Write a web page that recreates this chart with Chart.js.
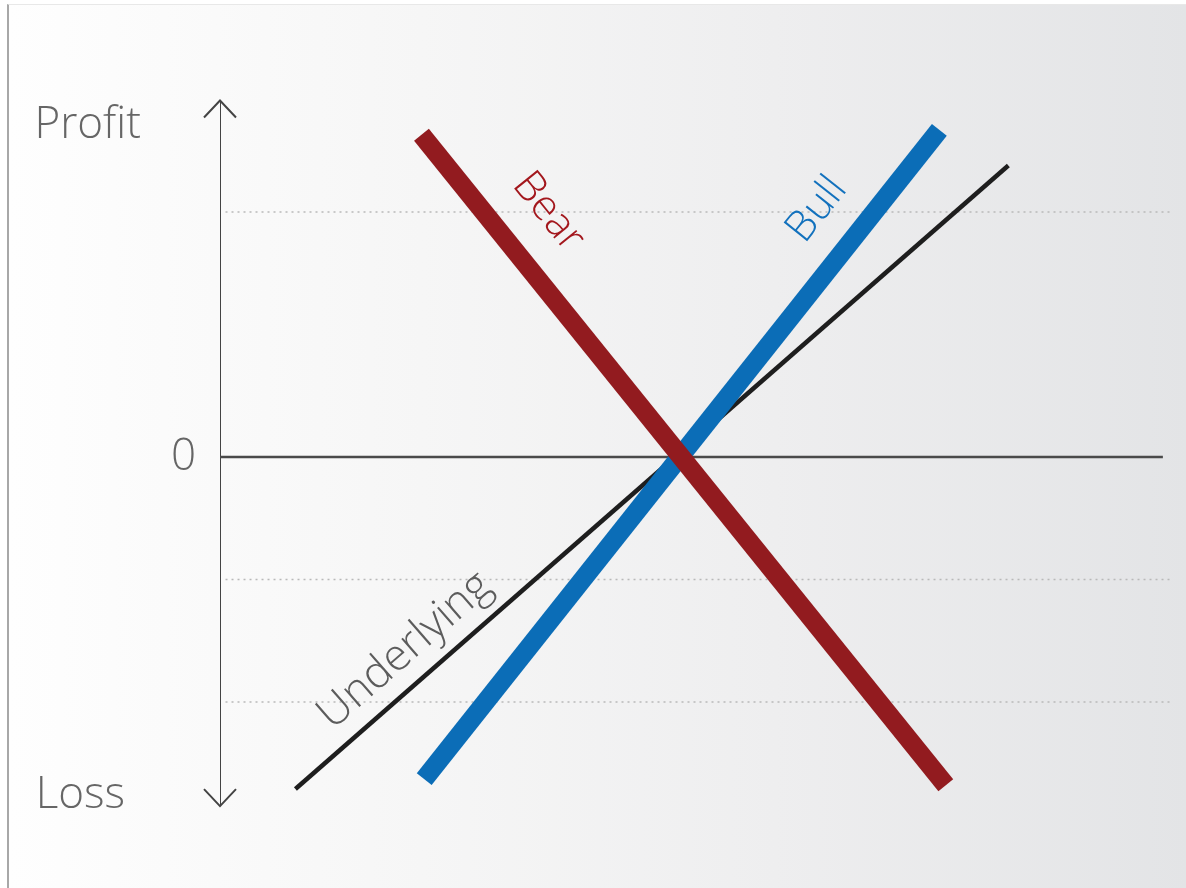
<!DOCTYPE html>
<html lang="en">
<head>
<meta charset="UTF-8">
<title>Bull / Bear payoff</title>
<script src="https://cdn.jsdelivr.net/npm/chart.js"></script>
<style>
  html, body { margin: 0; padding: 0; background: #fff; }
  #frame {
    position: absolute; left: 7px; top: 4px; width: 1179px; height: 884px;
    border-left: 2px solid #a8a8a8; border-top: 1px solid #e8e8e8;
    background: linear-gradient(to right, #fefefe 0%, #f6f6f6 35%, #eeeeef 65%, #e3e4e6 100%);
  }
  #chart { position: absolute; left: 0; top: 0; }
</style>
</head>
<body>
<div id="frame"></div>
<canvas id="chart" width="1186" height="888"></canvas>

<script>
// payoff lines (x = underlying price, y = profit/loss)
const seriesNames = ['Bear', 'Bull', 'Underlying'];
const bearX = [2.19, 7.89];
const bearY = [2.63, -2.68];
const bullX = [2.22, 7.82];
const bullY = [-2.63, 2.67];
const underlyingX = [0.82, 8.57];
const underlyingY = [-2.71, 2.38];

// axes and guides
const zeroX = [0, 10.25];
const axisY = [-2.85, 2.91];
const gridLevels = [2, -1, -2];
const gridX = [0.06, 10.36];

// y labels
const yTickLabels = ['Profit', '0', 'Loss'];
const yTickValues = [2.71, 0, -2.76];

const colors = { Bear: '#921b1f', Bull: '#0b6db7', Underlying: '#1e1e1e' };
const textColors = { Bear: '#a3171d', Bull: '#1271bd', Underlying: '#5c5c5c' };
// where each series name sits (data coords)
const nameSpots = { Bear: [3.57, 2.0], Bull: [6.49, 2.02], Underlying: [2.01, -1.58] };

function pts(xs, ys) {
  return xs.map((x, i) => ({ x: x, y: ys[i] }));
}

const datasets = [
  { label: 'Bear', data: pts(bearX, bearY), borderColor: colors.Bear, borderWidth: 19 },
  { label: 'Bull', data: pts(bullX, bullY), borderColor: colors.Bull, borderWidth: 19 },
  { label: 'Underlying', data: pts(underlyingX, underlyingY), borderColor: colors.Underlying, borderWidth: 4.5 },
  { label: 'zero', data: pts(zeroX, [0, 0]), borderColor: '#4a4a4a', borderWidth: 2.5 },
  { label: 'axis', data: pts([0, 0], axisY), borderColor: '#444', borderWidth: 2 }
];
gridLevels.forEach(g => {
  datasets.push({ label: 'grid', data: pts(gridX, [g, g]), borderColor: '#b9b9b9', borderWidth: 1.5, borderDash: [2, 4] });
});
datasets.forEach((d, i) => {
  d.showLine = true;
  d.pointRadius = 0;
  d.fill = false;
  d.order = i;
});

const decor = {
  id: 'decor',
  afterDatasetsDraw(chart) {
    const c = chart.ctx, xs = chart.scales.x, ys = chart.scales.y;
    const ax = xs.getPixelForValue(0);
    const top = ys.getPixelForValue(axisY[1]);
    const bot = ys.getPixelForValue(axisY[0]);
    c.save();
    // arrow heads
    c.strokeStyle = '#444';
    c.lineWidth = 2;
    c.beginPath();
    c.moveTo(ax - 16, top + 17); c.lineTo(ax, top); c.lineTo(ax + 16, top + 17);
    c.moveTo(ax - 16, bot - 17); c.lineTo(ax, bot); c.lineTo(ax + 16, bot - 17);
    c.stroke();

    // y labels
    c.font = '300 44px "Open Sans"';
    c.fillStyle = '#666';
    c.textAlign = 'right';
    c.textBaseline = 'middle';
    const rightEdge = [ax - 79, ax - 24, ax - 95];
    yTickLabels.forEach((t, i) => {
      c.fillText(t, rightEdge[i], ys.getPixelForValue(yTickValues[i]));
    });

    // series names along their lines
    const lines = { Bear: [bearX, bearY], Bull: [bullX, bullY], Underlying: [underlyingX, underlyingY] };
    seriesNames.forEach(n => {
      const [lx, ly] = lines[n];
      const x0 = xs.getPixelForValue(lx[0]), y0 = ys.getPixelForValue(ly[0]);
      const x1 = xs.getPixelForValue(lx[1]), y1 = ys.getPixelForValue(ly[1]);
      const ang = Math.atan2(y1 - y0, x1 - x0);
      const px = xs.getPixelForValue(nameSpots[n][0]);
      const py = ys.getPixelForValue(nameSpots[n][1]);
      c.save();
      c.translate(px, py);
      c.rotate(ang);
      c.font = n === 'Underlying' ? '300 44px "Open Sans"' : '300 42px "Open Sans"';
      c.fillStyle = textColors[n];
      c.textAlign = 'center';
      c.textBaseline = 'middle';
      c.fillText(n, 0, 0);
      c.restore();
    });
    c.restore();
  }
};

new Chart(document.getElementById('chart'), {
  type: 'scatter',
  data: { datasets: datasets },
  options: {
    responsive: false,
    animation: false,
    layout: { padding: { left: 220, right: 13, top: 89.5, bottom: 63.5 } },
    plugins: { legend: { display: false }, tooltip: { enabled: false } },
    scales: {
      x: { type: 'linear', min: 0, max: 10.36, display: false },
      y: { type: 'linear', min: -3, max: 3, display: false }
    }
  },
  plugins: [decor]
});
</script>
</body>
</html>
